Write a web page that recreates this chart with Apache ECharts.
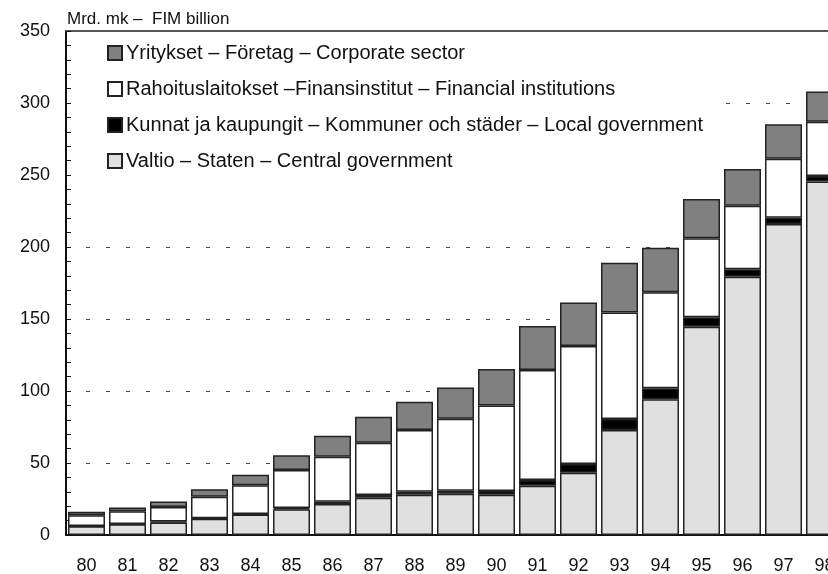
<!DOCTYPE html>
<html>
<head>
<meta charset="utf-8">
<script src="https://cdn.jsdelivr.net/npm/echarts@6/dist/echarts.min.js"></script>
<style>html,body{margin:0;padding:0;background:#fff;}#c{width:828px;height:574px;}</style>
</head>
<body>
<div id="c"></div>
<script>
var years = ['80','81','82','83','84','85','86','87','88','89','90','91','92','93','94','95','96','97','98'];
var central   = [6.0, 7.4, 8.6, 11.3, 14.3, 17.8, 21.5, 25.9, 28.0, 28.7, 28.0, 34.2, 43.3, 72.9, 94.2, 144.7, 179.4, 216.0, 245.4];
var local     = [0.3, 0.3, 0.7, 0.3, 0.3, 1.0, 1.6, 1.9, 2.1, 2.1, 2.6, 4.0, 6.0, 7.7, 7.7, 6.5, 5.1, 4.3, 3.9];
var financial = [7.5, 8.8, 10.2, 15.0, 19.9, 26.4, 31.3, 36.3, 42.8, 50.0, 59.4, 76.4, 82.0, 74.0, 66.6, 54.8, 44.2, 41.0, 37.7];
var corporate = [2.3, 2.6, 3.7, 5.1, 7.4, 10.2, 14.6, 18.1, 19.7, 21.7, 25.3, 30.5, 30.2, 34.5, 31.0, 27.3, 25.5, 23.9, 20.9];
var names = [
  'Yritykset – Företag – Corporate sector',
  'Rahoituslaitokset –Finansinstitut – Financial institutions',
  'Kunnat ja kaupungit – Kommuner och städer – Local government',
  'Valtio – Staten – Central government'
];
var FONT = '"Liberation Sans", Arial, sans-serif';
function ser(name, data, color) {
  return {
    name: name, type: 'bar', stack: 'total', data: data, barWidth: 37,
    itemStyle: { color: color, borderColor: '#222', borderWidth: 1.5 },
    emphasis: { disabled: true }
  };
}
var chart = echarts.init(document.getElementById('c'), null, { renderer: 'canvas' });
chart.setOption({
  animation: false,
  textStyle: { fontFamily: FONT },
  grid: { left: 66, top: 31, bottom: 39, width: 779, containLabel: false, outerBoundsMode: 'none' },
  legend: {
    orient: 'vertical', left: 102, top: 38,
    data: names, itemWidth: 14, itemHeight: 14, itemGap: 16,
    icon: 'rect',
    textStyle: { fontSize: 20, color: '#111', fontFamily: FONT, padding: [0, 0, 0, -1] }
  },
  graphic: [
    { type: 'rect', z: 1, shape: { x: 73, y: 33, width: 645, height: 150 }, style: { fill: '#fff' } },
    { type: 'text', left: 67, top: 11, style: { text: 'Mrd. mk –  FIM billion', fontSize: 17, fill: '#111', fontFamily: FONT } }
  ],
  xAxis: [{
    type: 'category', data: years, position: 'bottom',
    axisLine: { lineStyle: { color: '#111', width: 2 } },
    axisTick: { show: false },
    axisLabel: { fontSize: 18, color: '#111', margin: 22, fontFamily: FONT }
  }, {
    type: 'category', data: years, position: 'top',
    axisLine: { show: true, onZero: false, lineStyle: { color: '#555', width: 2 } },
    axisTick: { show: false }, axisLabel: { show: false }
  }],
  yAxis: {
    type: 'value', min: 0, max: 350, interval: 50,
    axisLine: { show: true, lineStyle: { color: '#111', width: 2 } },
    axisTick: { show: true, inside: true, length: 5, lineStyle: { color: '#111' } },
    minorTick: { show: true, splitNumber: 5, length: 5, lineStyle: { color: '#111' } },
    axisLabel: { fontSize: 18, color: '#111', margin: 16, fontFamily: FONT },
    splitLine: { show: true, lineStyle: { color: '#444', width: 1, type: [4, 16] } }
  },
  series: [
    ser(names[3], central, '#e0e0e0'),
    ser(names[2], local, '#000000'),
    ser(names[1], financial, '#ffffff'),
    ser(names[0], corporate, '#808080')
  ]
});
</script>
</body>
</html>
